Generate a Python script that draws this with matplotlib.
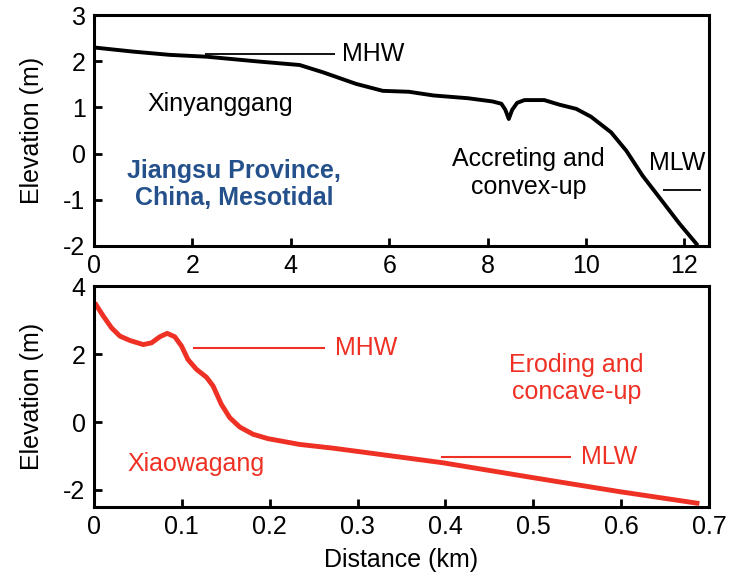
import numpy as np
import matplotlib
matplotlib.use("Agg")
import matplotlib.pyplot as plt

plt.rcParams['font.family'] = ['Liberation Sans', 'DejaVu Sans']
plt.rcParams['font.size'] = 18
plt.rcParams['axes.unicode_minus'] = False

# Xinyanggang profile (accreting, convex-up)
xin_dist = [0.0, 0.8, 1.54, 2.29, 3.3, 4.18, 4.66, 5.33, 5.87, 6.4, 6.9, 7.6,
            8.1, 8.28, 8.36, 8.43, 8.5, 8.6, 8.75, 9.15, 9.46, 9.8, 10.1,
            10.51, 10.82, 11.15, 11.49, 11.9, 12.27]
xin_elev = [2.30, 2.21, 2.14, 2.10, 2.0, 1.92, 1.76, 1.51, 1.36, 1.34,
            1.26, 1.2, 1.13, 1.08, 0.95, 0.75, 0.95, 1.1, 1.16, 1.16, 1.06,
            0.97, 0.8, 0.46, 0.06, -0.48, -0.95, -1.52, -1.99]

# Xiaowagang profile (eroding, concave-up)
xia_dist = [0.001, 0.0106, 0.0201, 0.0295, 0.041, 0.056, 0.0655, 0.075,
            0.0833, 0.092, 0.0996, 0.107, 0.1167, 0.128, 0.1356, 0.145,
            0.1545, 0.166, 0.181, 0.198, 0.234, 0.272, 0.31, 0.397, 0.5,
            0.598, 0.689]
xia_elev = [3.51, 3.12, 2.77, 2.53, 2.40, 2.28, 2.33, 2.51, 2.61, 2.51, 2.24,
            1.84, 1.55, 1.32, 1.06, 0.52, 0.13, -0.15, -0.36, -0.49, -0.66,
            -0.77, -0.9, -1.2, -1.64, -2.05, -2.40]

# tidal levels: (x start, x end, elevation)
top_mhw = (2.25, 4.89, 2.16)
top_mlw = (11.57, 12.33, -0.78)
bot_mhw = (0.113, 0.263, 2.17)
bot_mlw = (0.395, 0.543, -1.02)

blue = '#24508c'
red = '#ee3124'

fig = plt.figure(figsize=(7.34, 5.84), dpi=100)
ax1 = fig.add_axes([0.128, 0.579, 0.838, 0.395])
ax2 = fig.add_axes([0.128, 0.132, 0.838, 0.378])

for ax in (ax1, ax2):
    for s in ax.spines.values():
        s.set_linewidth(2.2)
    ax.tick_params(direction='in', length=6, width=2, labelsize=18, pad=6)

# top panel
ax1.plot(xin_dist, xin_elev, color='black', lw=2.8, solid_capstyle='butt',
         solid_joinstyle='round')
ax1.hlines(top_mhw[2], top_mhw[0], top_mhw[1], color='black', lw=1.3)
ax1.text(top_mhw[1] + 0.15, top_mhw[2], 'MHW', va='center', ha='left')
ax1.hlines(top_mlw[2], top_mlw[0], top_mlw[1], color='black', lw=1.3)
ax1.text(11.86, -0.2, 'MLW', va='center', ha='center')
ax1.text(2.57, 1.08, 'Xinyanggang', ha='center', va='center')
ax1.text(2.85, -0.67, 'Jiangsu Province,\nChina, Mesotidal', ha='center',
         va='center', color=blue, fontweight='bold', linespacing=1.15)
ax1.text(8.83, -0.42, 'Accreting and\nconvex-up', ha='center', va='center',
         linespacing=1.2)
ax1.set_xlim(0, 12.5)
ax1.set_ylim(-2, 3)
ax1.set_xticks([0, 2, 4, 6, 8, 10, 12])
ax1.set_yticks([-2, -1, 0, 1, 2, 3])
ax1.set_ylabel('Elevation (m)', labelpad=14)

# bottom panel
ax2.plot(xia_dist, xia_elev, color=red, lw=3.5, solid_capstyle='butt',
         solid_joinstyle='round')
ax2.hlines(bot_mhw[2], bot_mhw[0], bot_mhw[1], color=red, lw=1.5)
ax2.text(bot_mhw[1] + 0.011, bot_mhw[2], 'MHW', va='center', ha='left', color=red)
ax2.hlines(bot_mlw[2], bot_mlw[0], bot_mlw[1], color=red, lw=1.5)
ax2.text(bot_mlw[1] + 0.011, bot_mlw[2], 'MLW', va='center', ha='left', color=red)
ax2.text(0.116, -1.24, 'Xiaowagang', ha='center', va='center', color=red)
ax2.text(0.549, 1.28, 'Eroding and\nconcave-up', ha='center', va='center',
         color=red, linespacing=1.2)
ax2.set_xlim(0, 0.7)
ax2.set_ylim(-2.5, 4)
ax2.set_xticks([0, 0.1, 0.2, 0.3, 0.4, 0.5, 0.6, 0.7])
ax2.set_xticklabels(['0', '0.1', '0.2', '0.3', '0.4', '0.5', '0.6', '0.7'])
ax2.set_yticks([-2, 0, 2, 4])
ax2.set_ylabel('Elevation (m)', labelpad=14)
ax2.set_xlabel('Distance (km)', labelpad=6)

fig.savefig('out.png', dpi=100)
